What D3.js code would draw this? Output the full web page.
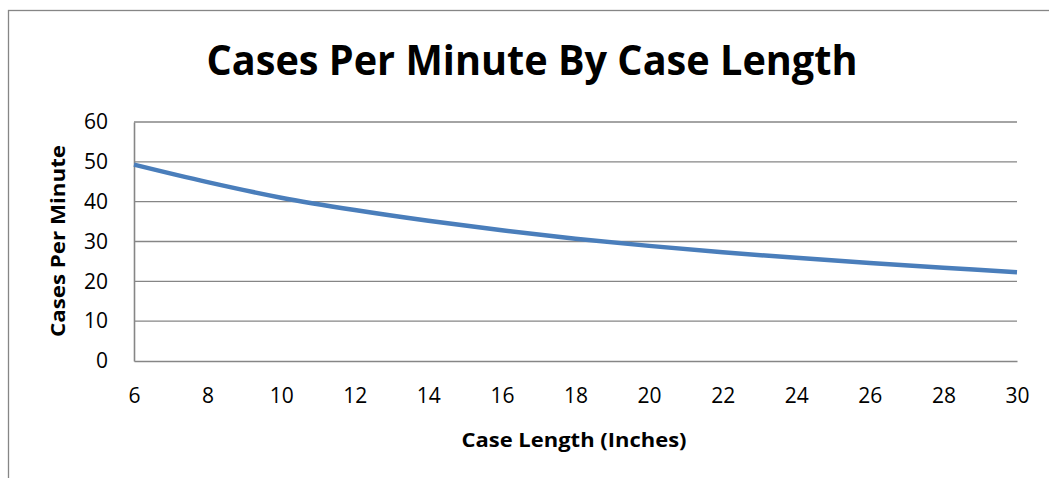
<!DOCTYPE html>
<html>
<head>
<meta charset="utf-8">
<script src="https://cdn.jsdelivr.net/npm/d3@7"></script>
<style>
  body { margin: 0; background: #fff; }
  svg { display: block; }
  text { font-family: "Open Sans", "Liberation Sans", sans-serif; fill: #000; }
</style>
</head>
<body>
<div id="chart"></div>
<script>
// case length (inches) and cases per minute
const caseLength = [6, 8, 10, 12, 14, 16, 18, 20, 22, 24, 26, 28, 30];
const casesPerMinute = [49.3, 44.9, 41.0, 37.9, 35.2, 32.8, 30.7, 28.9, 27.3, 25.9, 24.6, 23.4, 22.3];
const xTicks = [6, 8, 10, 12, 14, 16, 18, 20, 22, 24, 26, 28, 30];
const yTicks = [0, 10, 20, 30, 40, 50, 60];

const chartTitle = "Cases Per Minute By Case Length";
const xTitle = "Case Length (Inches)";
const yTitle = "Cases Per Minute";

const width = 1049, height = 478;
const margin = { top: 122, right: 32, bottom: 117, left: 134 };
const gridColor = "#868686";

const svg = d3.select("#chart").append("svg")
    .attr("width", width)
    .attr("height", height);

svg.append("rect")
    .attr("width", width).attr("height", height)
    .attr("fill", "#fff");

// outer chart border (runs off right and bottom)
svg.append("rect")
    .attr("x", 8.5).attr("y", 10.5)
    .attr("width", 1200).attr("height", 600)
    .attr("fill", "none")
    .attr("stroke", gridColor)
    .attr("stroke-width", 1.3);

const x = d3.scaleLinear()
    .domain([6, 30])
    .range([margin.left, width - margin.right]);

const y = d3.scaleLinear()
    .domain([0, 60])
    .range([height - margin.bottom, margin.top]);

// horizontal gridlines
svg.append("g")
    .selectAll("line")
    .data(yTicks.filter(d => d > 0))
    .join("line")
    .attr("x1", x(6)).attr("x2", x(30))
    .attr("y1", d => y(d)).attr("y2", d => y(d))
    .attr("stroke", gridColor)
    .attr("stroke-width", 1.4);

// axes
const yAxisG = svg.append("g")
    .attr("transform", "translate(" + x(6) + ",0)")
    .call(d3.axisLeft(y).tickValues(yTicks).tickSize(0).tickPadding(26));

const xAxisG = svg.append("g")
    .attr("transform", "translate(0," + y(0) + ")")
    .call(d3.axisBottom(x).tickValues(xTicks).tickSize(0).tickPadding(27));

[yAxisG, xAxisG].forEach(g => {
    g.attr("font-size", null).attr("font-family", null);
    g.select(".domain").attr("stroke", gridColor).attr("stroke-width", 1.6);
    g.selectAll("text")
        .style("font-family", "\"Open Sans\", sans-serif")
        .style("font-size", "21px")
        .attr("fill", "#000");
});

// the data line
const line = d3.line()
    .x((d, i) => x(caseLength[i]))
    .y(d => y(d))
    .curve(d3.curveCatmullRom);

svg.append("path")
    .datum(casesPerMinute)
    .attr("fill", "none")
    .attr("stroke", "#4a7ebb")
    .attr("stroke-width", 4.5)
    .attr("stroke-linecap", "butt")
    .attr("d", line);

// titles
svg.append("text")
    .attr("x", 532).attr("y", 75)
    .attr("text-anchor", "middle")
    .style("font-size", "42px")
    .style("font-weight", "bold")
    .attr("textLength", 651)
    .attr("lengthAdjust", "spacingAndGlyphs")
    .text(chartTitle);

svg.append("text")
    .attr("x", 574).attr("y", 447)
    .attr("text-anchor", "middle")
    .style("font-size", "19px")
    .style("font-weight", "bold")
    .attr("textLength", 225)
    .attr("lengthAdjust", "spacingAndGlyphs")
    .text(xTitle);

svg.append("text")
    .attr("transform", "translate(65,241) rotate(-90)")
    .attr("text-anchor", "middle")
    .style("font-size", "19px")
    .style("font-weight", "bold")
    .attr("textLength", 192)
    .attr("lengthAdjust", "spacingAndGlyphs")
    .text(yTitle);
</script>
</body>
</html>
